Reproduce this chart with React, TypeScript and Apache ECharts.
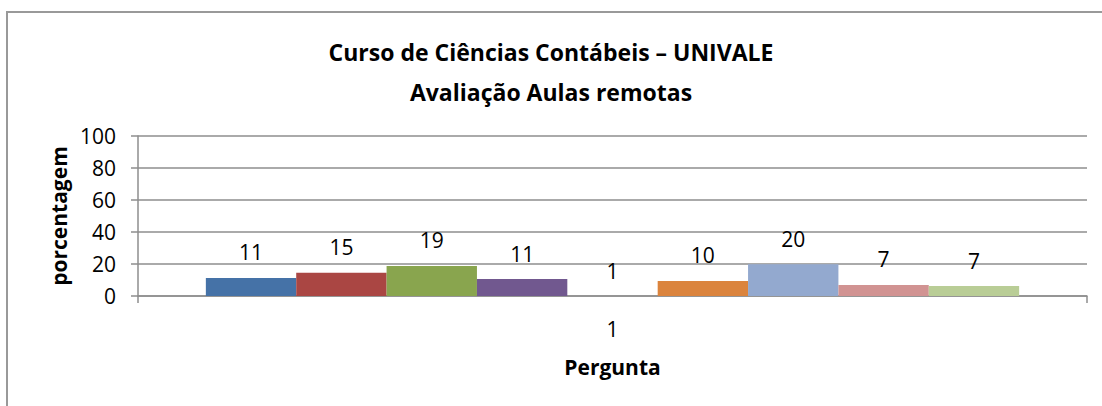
import React, { useEffect, useRef } from "react";
import * as echarts from "echarts";

const categories = ["1"];
const seriesNames = ["S1", "S2", "S3", "S4", "S5", "S6", "S7", "S8", "S9"];
const barValues = [11.3, 14.6, 18.8, 10.6, 0, 9.4, 19.8, 6.9, 6.2];
const barLabels = ["11", "15", "19", "11", "1", "10", "20", "7", "7"];
const barColors = [
  "#4572A7",
  "#AA4643",
  "#89A54E",
  "#71588F",
  "#4198AF",
  "#DB843D",
  "#93A9CF",
  "#D19392",
  "#B9CD96",
];
const yTicks = { min: 0, max: 100, interval: 20 };
const titleLines = ["Curso de Ciências Contábeis – UNIVALE", "Avaliação Aulas remotas"];
const yName = "porcentagem";
const xName = "Pergunta";

const FONT = "'Open Sans', sans-serif";
const GRID_COLOR = "#8e8e8e";

export default function App() {
  const ref = useRef<HTMLDivElement>(null);
  useEffect(() => {
    if (!ref.current) return;
    const chart = echarts.init(ref.current, null, { renderer: "svg" });
    chart.setOption({
      animation: false,
      backgroundColor: "#ffffff",
      textStyle: { fontFamily: FONT },
      graphic: [
        {
          type: "rect",
          shape: { x: 7, y: 12, width: 1200, height: 500 },
          style: { fill: "none", stroke: "#999", lineWidth: 2 },
          silent: true,
        },
        ...titleLines.map((t, i) => ({
          type: "text",
          x: 551,
          y: 52 + i * 40,
          silent: true,
          style: {
            text: t,
            fontFamily: FONT,
            fontSize: 23,
            fontWeight: "bold",
            fill: "#000",
            textAlign: "center",
            textVerticalAlign: "middle",
          },
        })),
      ],
      grid: { left: 138, right: 15, top: 136, bottom: 110, containLabel: false },
      xAxis: {
        type: "category",
        data: categories,
        name: xName,
        nameLocation: "middle",
        nameGap: 60,
        nameTextStyle: { fontFamily: FONT, fontSize: 21, fontWeight: "bold", color: "#000" },
        axisLine: { lineStyle: { color: GRID_COLOR, width: 1.5 } },
        axisTick: { show: true, length: 7, lineStyle: { color: GRID_COLOR, width: 1.5 }, alignWithLabel: false },
        axisLabel: { fontFamily: FONT, fontSize: 21, color: "#000", margin: 22 },
      },
      yAxis: {
        type: "value",
        min: yTicks.min,
        max: yTicks.max,
        interval: yTicks.interval,
        name: yName,
        nameLocation: "middle",
        nameGap: 55,
        nameRotate: 90,
        nameTextStyle: { fontFamily: FONT, fontSize: 21, fontWeight: "bold", color: "#000" },
        axisLine: { show: true, lineStyle: { color: GRID_COLOR, width: 1.5 } },
        axisTick: { show: true, length: 7, lineStyle: { color: GRID_COLOR, width: 1.5 } },
        splitLine: { show: true, lineStyle: { color: GRID_COLOR, width: 1.5 } },
        axisLabel: { fontFamily: FONT, fontSize: 21, color: "#000", margin: 22 },
      },
      series: seriesNames.map((name, i) => ({
        name,
        type: "bar",
        data: [barValues[i]],
        barGap: "0%",
        barCategoryGap: "14.3%",
        itemStyle: { color: barColors[i] },
        label: {
          show: true,
          position: "top",
          distance: 15,
          fontFamily: FONT,
          fontSize: 21,
          color: "#000",
          formatter: () => barLabels[i],
        },
      })),
    });
    return () => chart.dispose();
  }, []);
  return (
    <div
      ref={ref}
      style={{ position: "absolute", left: 0, top: 0, width: 1102, height: 406 }}
    />
  );
}
